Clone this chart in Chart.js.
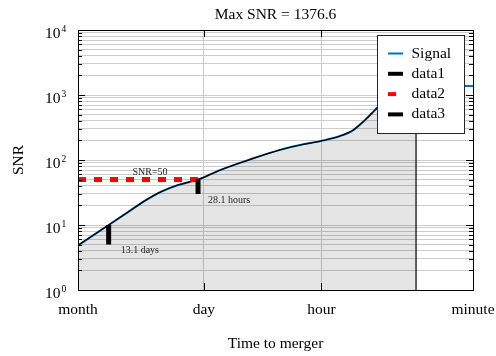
<!DOCTYPE html>
<html>
<head>
<meta charset="utf-8">
<script src="https://cdn.jsdelivr.net/npm/chart.js@4/dist/chart.umd.min.js"></script>
<style>
  html, body { margin: 0; padding: 0; background: #fff; }
</style>
</head>
<body>
<canvas id="c" width="496" height="356"></canvas>
<script>
// Time to merger is measured in minutes.
const timeTickValues = [1, 60, 1440, 43200];
const timeTickLabels = ['minute', 'hour', 'day', 'month'];
const snrTickValues = [1, 10, 100, 1000, 10000];

// Accumulated SNR against time to merger
const signalTime = [43200, 18864, 11190, 7125, 4546, 2896, 1686, 931, 414, 184, 107, 60, 36.3, 25.4, 19.4, 15.4, 13.5, 9.4, 6.6, 4.66, 1];
const signalSNR  = [4.85, 10, 15.8, 23.5, 32.6, 41.2, 50, 70, 102, 143, 170, 197, 234, 289, 389, 523, 624, 880, 1150, 1376.6, 1376.6];
const mergerTime = 4.66;
const maxSNR = 1376.6;

// SNR = 10 reached 13.1 days before merger
const data1Time = [18864, 18864];
const data1SNR  = [10, 5];
// SNR = 50 threshold
const data2Time = [43200, 1686];
const data2SNR  = [50, 50];
// SNR = 50 reached 28.1 hours before merger
const data3Time = [1686, 1686];
const data3SNR  = [50, 30];

const noteText = ['SNR=50', '13.1 days', '28.1 hours'];
const noteTime = [6170, 18864, 1686];
const noteSNR  = [64, 4, 24.2];

const serif = "'Liberation Serif', 'Times New Roman', serif";

const pts = (xs, ys) => xs.map((x, i) => ({ x: x, y: ys[i] }));

// Shaded region under the curve, closed at the merger
const patchPoints = pts(signalTime, signalSNR).filter(p => p.x >= mergerTime);
patchPoints.push({ x: mergerTime, y: 1 });

const frame = {
  id: 'frame',
  afterDatasetsDraw(chart) {
    const { ctx, chartArea: a, scales: { x, y } } = chart;
    ctx.save();
    const L = Math.round(a.left), R = Math.round(a.right), T = Math.round(a.top), B = Math.round(a.bottom);

    // inward tick marks
    ctx.strokeStyle = '#000';
    ctx.lineWidth = 1;
    ctx.beginPath();
    y.ticks.forEach(t => {
      const py = Math.round(y.getPixelForValue(t.value)) + 0.5;
      const len = snrTickValues.includes(t.value) ? 7 : 4;
      ctx.moveTo(L, py); ctx.lineTo(L + len, py);
      ctx.moveTo(R, py); ctx.lineTo(R - len, py);
    });
    x.ticks.forEach(t => {
      const px = Math.round(x.getPixelForValue(t.value)) + 0.5;
      ctx.moveTo(px, B); ctx.lineTo(px, B - 7);
      ctx.moveTo(px, T); ctx.lineTo(px, T + 7);
    });
    ctx.stroke();
    ctx.strokeRect(L + 0.5, T + 0.5, R - L, B - T);

    // powers of ten on the SNR axis
    ctx.fillStyle = '#000';
    ctx.textBaseline = 'alphabetic';
    snrTickValues.forEach(v => {
      const py = y.getPixelForValue(v);
      ctx.font = '15.5px ' + serif;
      ctx.textAlign = 'right';
      ctx.fillText('10', L - 17.5, py + 8);
      ctx.font = '9.5px ' + serif;
      ctx.textAlign = 'left';
      ctx.fillText(String(Math.round(Math.log10(v))), L - 16.5, py + 2);
    });

    // axis name
    ctx.save();
    ctx.translate(19, (a.top + a.bottom) / 2);
    ctx.rotate(-Math.PI / 2);
    ctx.font = '15.5px ' + serif;
    ctx.textAlign = 'center';
    ctx.textBaseline = 'middle';
    ctx.fillText('SNR', 0, 0);
    ctx.restore();

    // notes
    const noteAlign = ['center', 'left', 'left'];
    const noteShift = [0, 12, 10];
    ctx.font = '10px ' + serif;
    ctx.fillStyle = '#262626';
    ctx.textBaseline = 'middle';
    noteText.forEach((txt, i) => {
      ctx.textAlign = noteAlign[i];
      ctx.fillText(txt, x.getPixelForValue(noteTime[i]) + noteShift[i], y.getPixelForValue(noteSNR[i]));
    });

    // legend box
    const bx = 377.5, by = 35.5, bw = 87, bh = 98;
    ctx.fillStyle = '#fff';
    ctx.fillRect(bx, by, bw, bh);
    ctx.strokeStyle = '#262626';
    ctx.lineWidth = 1;
    ctx.setLineDash([]);
    ctx.strokeRect(bx, by, bw, bh);
    const items = chart.data.datasets.filter(d => d.label && !d.hideInLegend);
    items.sort((p, q) => p.legendRank - q.legendRank);
    items.forEach((d, i) => {
      const ly = 53.5 + i * 20.3;
      ctx.save();
      ctx.strokeStyle = d.borderColor;
      ctx.lineWidth = Math.min(d.borderWidth, 4);
      ctx.lineCap = 'butt';
      ctx.setLineDash(d.borderDash || []);
      ctx.beginPath();
      ctx.moveTo(388, ly);
      ctx.lineTo(403, ly);
      ctx.stroke();
      ctx.restore();
      ctx.fillStyle = '#000';
      ctx.font = '15.5px ' + serif;
      ctx.textAlign = 'left';
      ctx.textBaseline = 'middle';
      ctx.fillText(d.label, 411.5, ly);
    });
    ctx.restore();
  }
};

new Chart(document.getElementById('c'), {
  type: 'scatter',
  data: {
    datasets: [
      {
        label: 'data3', legendRank: 3, order: 0,
        data: pts(data3Time, data3SNR), showLine: true,
        borderColor: '#000', borderWidth: 5, pointRadius: 0, borderCapStyle: 'butt'
      },
      {
        label: 'data2', legendRank: 2, order: 1,
        data: pts(data2Time, data2SNR), showLine: true,
        borderColor: '#ff0000', borderWidth: 5, borderDash: [8, 8], pointRadius: 0, borderCapStyle: 'butt'
      },
      {
        label: 'data1', legendRank: 1, order: 2,
        data: pts(data1Time, data1SNR), showLine: true,
        borderColor: '#000', borderWidth: 5, pointRadius: 0, borderCapStyle: 'butt'
      },
      {
        label: 'patch', hideInLegend: true, order: 3,
        data: patchPoints, showLine: true, fill: 'start',
        backgroundColor: 'rgba(0,0,0,0.1)', borderColor: '#000', borderWidth: 1.2,
        pointRadius: 0, cubicInterpolationMode: 'monotone'
      },
      {
        label: 'Signal', legendRank: 0, order: 4,
        data: pts(signalTime, signalSNR), showLine: true,
        borderColor: '#0072bd', borderWidth: 2, pointRadius: 0,
        cubicInterpolationMode: 'monotone'
      }
    ]
  },
  options: {
    responsive: false,
    animation: false,
    devicePixelRatio: 1,
    events: [],
    layout: { padding: { left: 78, right: 23, top: 0, bottom: 0 } },
    plugins: {
      legend: { display: false },
      tooltip: { enabled: false },
      title: {
        display: true,
        text: 'Max SNR = ' + maxSNR.toFixed(1),
        color: '#000',
        font: { family: serif, size: 15.5, weight: 'normal' },
        padding: { top: 5.5, bottom: 5.9 }
      }
    },
    scales: {
      x: {
        type: 'logarithmic',
        reverse: true,
        min: 1,
        max: 43200,
        afterBuildTicks: s => { s.ticks = timeTickValues.map(v => ({ value: v })); },
        afterFit: s => { s.paddingLeft = 0; s.paddingRight = 0; s.height = 66; },
        ticks: {
          autoSkip: false, maxRotation: 0, padding: 11, color: '#000',
          font: { family: serif, size: 15.5 },
          callback: v => { const i = timeTickValues.indexOf(v); return i >= 0 ? timeTickLabels[i] : ''; }
        },
        grid: {
          drawTicks: false,
          color: c => (c.tick && (c.tick.value === 60 || c.tick.value === 1440)) ? '#cccccc' : 'rgba(0,0,0,0)'
        },
        border: { color: '#000', width: 1 },
        title: {
          display: true, text: 'Time to merger', color: '#000',
          font: { family: serif, size: 15.5 },
          padding: { top: 0, bottom: 3 }
        }
      },
      y: {
        type: 'logarithmic',
        min: 1,
        max: 10000,
        afterBuildTicks: s => {
          const t = [];
          for (let e = 0; e < 4; e++) for (let m = 1; m < 10; m++) t.push({ value: m * Math.pow(10, e) });
          t.push({ value: 10000 });
          s.ticks = t;
        },
        afterFit: s => { s.width = 0; },
        ticks: { display: false },
        grid: { drawTicks: false, color: '#cccccc' },
        border: { color: '#000', width: 1 }
      }
    }
  },
  plugins: [frame]
});
</script>
</body>
</html>
